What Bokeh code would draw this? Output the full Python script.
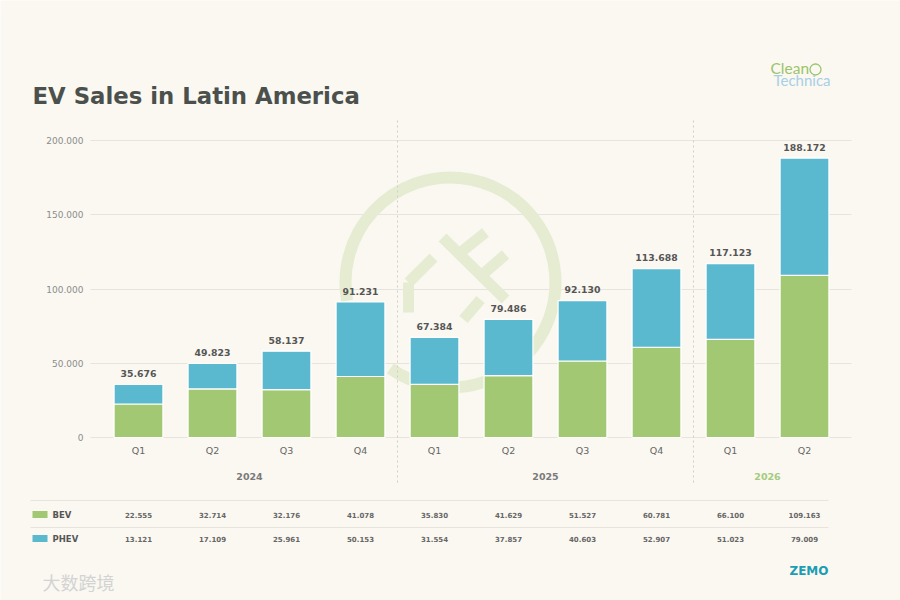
import math
import numpy as np
from bokeh.plotting import figure
from bokeh.models import ColumnDataSource, Range1d, FixedTicker, Grid
from bokeh.core.properties import value
from bokeh.embed import file_html
from bokeh.resources import INLINE

# ---------------- data ----------------
quarters = ["Q1", "Q2", "Q3", "Q4", "Q1", "Q2", "Q3", "Q4", "Q1", "Q2"]
years = ["2024", "2024", "2024", "2024", "2025", "2025", "2025", "2025", "2026", "2026"]
bev = [22555, 32714, 32176, 41078, 35830, 41629, 51527, 60781, 66100, 109163]
phev = [13121, 17109, 25961, 50153, 31554, 37857, 40603, 52907, 51023, 79009]
y_ticks = [0, 50000, 100000, 150000, 200000]
series_names = ["BEV", "PHEV"]


def fmt(v):
    return f"{v:,}".replace(",", ".")


# ---------------- style / layout helpers ----------------
BG = "#faf8f1"
FONT = value("DejaVu Sans")
C_BEV = "#a2c874"
C_PHEV = "#5ab8cf"
GRID_C = "#e6e4dc"
W, H = 900, 600
PITCH = 74.0          # pixels between category centres
X0_PX = 138.0         # pixel centre of first category
BASE_PX = 437.0       # pixel row of value 0
U = 200000 / 297.0    # data units per pixel (vertical)


def X(px):
    return (px - X0_PX) / PITCH


def Y(py):
    return (BASE_PX - py) * U


idx = np.arange(len(quarters))
totals = [b + p for b, p in zip(bev, phev)]

p = figure(width=W, height=H, x_range=Range1d(X(0), X(W)), y_range=Range1d(Y(H), Y(0)),
           x_axis_type=None, y_axis_type=None, toolbar_location=None, output_backend="svg",
           min_border=0, background_fill_color=BG, border_fill_color=BG,
           outline_line_color=None)

# ---------------- horizontal grid ----------------
ticker = FixedTicker(ticks=y_ticks)
if "cross_bounds" in Grid.properties():
    p.add_layout(Grid(dimension=1, ticker=ticker, grid_line_color=GRID_C,
                      cross_bounds=(X(90), X(851))))
else:
    p.segment(x0=[X(90)] * len(y_ticks), x1=[X(851)] * len(y_ticks), y0=y_ticks, y1=y_ticks,
              line_color=GRID_C, line_width=1)
p.text(x=[X(83)] * len(y_ticks), y=y_ticks, text=[fmt(t) for t in y_ticks], text_font=FONT,
       text_font_size="9px", text_color="#8c8c8c", text_align="right", text_baseline="middle")

# ---------------- header ----------------
p.text(x=[X(32)], y=[Y(95)], text=["EV Sales in Latin America"], text_font=FONT,
       text_font_size="22.8px", text_font_style="bold", text_color="#4b504c",
       text_baseline="alphabetic")
p.text(x=[X(770)], y=[Y(67)], text=["Clean"], text_font=value("Lato"), text_font_size="15.5px",
       text_color="#9cc46a", text_baseline="alphabetic")
p.circle(x=[X(815)], y=[Y(69)], radius=5.5, radius_units="screen", fill_color=None,
         line_color="#9cc46a", line_width=1.3)
p.text(x=[X(773)], y=[Y(79)], text=["Technica"], text_font=value("Lato"), text_font_size="15px",
       text_color="#a9cfe6", text_baseline="alphabetic")

# ---------------- faint watermark (plug in a ring) ----------------
cx, cy = X(450), Y(282)
WM = "#e5ecd2"
p.arc(x=[cx], y=[cy], radius=105, radius_units="screen",
      start_angle=math.radians(-125), end_angle=math.radians(190),
      line_color=WM, line_width=12)
segs = [((-8, -45), (55, 17)), ((10, -30), (35, -50)), ((32, -8), (55, -28)),
        ((-17, -25), (-42, 0)), ((30, 17), (13, 37)), ((-42, 0), (-42, 30))]
p.segment(x0=[cx + a[0] / PITCH for a, b in segs], y0=[cy - a[1] * U for a, b in segs],
          x1=[cx + b[0] / PITCH for a, b in segs], y1=[cy - b[1] * U for a, b in segs],
          line_color=WM, line_width=11)

# ---------------- stacked bars ----------------
src = ColumnDataSource(dict(x=idx, BEV=bev, PHEV=phev, total=totals,
                            total_lbl=[fmt(t) for t in totals]))
p.vbar_stack(series_names, x="x", width=0.66, source=src,
             color=[C_BEV, C_PHEV], line_color="#ffffff", line_width=1.2)
p.text(x="x", y="total", text="total_lbl", source=src, y_offset=-11,
       text_font=FONT, text_font_size="9.3px", text_font_style="bold",
       text_color="#555555", text_align="center", text_baseline="middle")

# quarter labels
p.text(x=idx, y=[Y(450)] * len(idx), text=quarters, text_font=FONT, text_font_size="9.5px",
       text_color="#666666", text_align="center", text_baseline="middle")

# year group labels and separators
groups = []
for i, yv in enumerate(years):
    if not groups or groups[-1][0] != yv:
        groups.append([yv, [i]])
    else:
        groups[-1][1].append(i)
sep_x = []
for g, (yv, members) in enumerate(groups):
    color = "#a5cb7f" if g == len(groups) - 1 else "#7a7a7a"
    p.text(x=[float(np.mean(members))], y=[Y(476)], text=[yv], text_font=FONT,
           text_font_size="9.5px", text_font_style="bold", text_color=color,
           text_align="center", text_baseline="middle")
    if g > 0:
        sep_x.append(members[0] - 0.5)
p.segment(x0=sep_x, x1=sep_x, y0=[Y(120)] * len(sep_x), y1=[Y(483)] * len(sep_x),
          line_color="#cfcfca", line_dash="2 3", line_width=1)

# ---------------- data table ----------------
p.segment(x0=[X(30)] * 2, x1=[X(828)] * 2, y0=[Y(500), Y(527)], y1=[Y(500), Y(527)],
          line_color=GRID_C, line_width=1)
row_y = [Y(514), Y(538)]
p.rect(x=[X(39.5)] * 2, y=row_y, width=15, height=7, width_units="screen",
       height_units="screen", fill_color=[C_BEV, C_PHEV], line_color=None)
p.text(x=[X(52)] * 2, y=row_y, text=series_names, text_font=FONT,
       text_font_size="8.5px", text_font_style="bold", text_color="#555555",
       text_baseline="middle")
for vals, ry in zip([bev, phev], row_y):
    p.text(x=idx, y=[ry] * len(idx), text=[fmt(v) for v in vals], text_font=FONT,
           text_font_size="7px", text_font_style="bold", text_color="#666666",
           text_align="center", text_baseline="middle")

# ---------------- footer marks ----------------
p.text(x=[X(828)], y=[Y(570)], text=["ZEMO"], text_font=FONT,
       text_font_size="12px", text_font_style="bold", text_color="#1c9db3",
       text_align="right", text_baseline="middle")
p.text(x=[X(42)], y=[Y(581)], text=["大数跨境"], text_font=value("Noto Sans CJK SC"),
       text_font_size="18px", text_color="#d3d3d3", text_baseline="middle")

open("out.html", "w").write(file_html(p, INLINE))
